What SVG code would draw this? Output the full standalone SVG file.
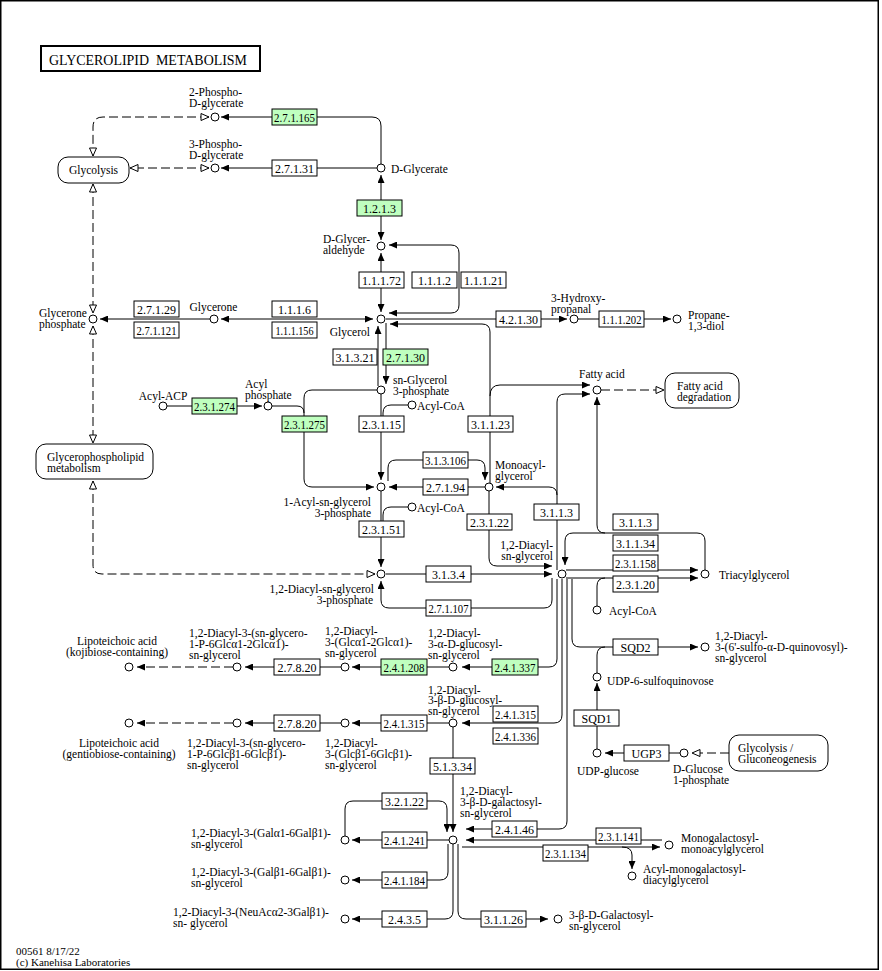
<svg xmlns="http://www.w3.org/2000/svg" width="882" height="971" viewBox="0 0 882 971">
<style>
text{font-family:"Liberation Serif","Times New Roman",serif;font-size:11.5px;fill:#000}
.l path{fill:none;stroke:#000;stroke-width:1}
.l .d{stroke-dasharray:9,4}
.c circle{fill:#fff;stroke:#000;stroke-width:1}
.e rect{fill:#fff;stroke:#000;stroke-width:1}
.e.g rect{fill:#bfffbf}
.e text{text-anchor:middle;font-size:12px}
.m rect{fill:#fff;stroke:#000;stroke-width:1}
</style>
<defs>
<marker id="af" viewBox="0 0 8 7" refX="8" refY="3.5" markerWidth="8" markerHeight="7" markerUnits="userSpaceOnUse" orient="auto-start-reverse"><path d="M0,0L8,3.5L0,7z" fill="#000" stroke="none"/></marker>
<marker id="ah" viewBox="-1 -1 10 9" refX="8" refY="3.5" markerWidth="10" markerHeight="9" markerUnits="userSpaceOnUse" orient="auto-start-reverse"><path d="M0,0L8,3.5L0,7z" fill="#fff" stroke="#000" stroke-width="1" stroke-dasharray="none"/></marker>
</defs>
<rect x="0.75" y="0.75" width="877.5" height="968.5" fill="#fff" stroke="#000" stroke-width="1.5"/>
<g id="title"><rect x="41" y="46" width="219" height="25" fill="#fff" stroke="#000" stroke-width="2"/><text x="49" y="65" style="font-size:14px;white-space:pre" textLength="198" lengthAdjust="spacingAndGlyphs">GLYCEROLIPID  METABOLISM</text></g>

<g id="connectors" class="l">
<path d="M381,164V126Q381,117 372,117H221" marker-end="url(#af)"/>
<path d="M377,168H221" marker-end="url(#af)"/>
<path class="d" d="M209,117H103Q93,117 93,127V156" marker-start="url(#ah)" marker-end="url(#ah)"/>
<path class="d" d="M209,168H130" marker-start="url(#ah)" marker-end="url(#ah)"/>
<path class="d" d="M93,184V313" marker-start="url(#ah)" marker-end="url(#ah)"/>
<path class="d" d="M93,326V443" marker-start="url(#ah)" marker-end="url(#ah)"/>
<path class="d" d="M93,481V565Q93,574 102,574H375" marker-start="url(#ah)" marker-end="url(#ah)"/>
<path d="M381,175V240" marker-start="url(#af)" marker-end="url(#af)"/>
<path d="M381,253V312" marker-start="url(#af)" marker-end="url(#af)"/>
<path d="M389,245H451Q459,245 459,253V305Q459,313 451,313H389" marker-start="url(#af)" marker-end="url(#af)"/>
<path d="M386,319H567" marker-end="url(#af)"/>
<path d="M578,319H671" marker-end="url(#af)"/>
<path d="M490,483V332Q490,324 482,324H390" marker-end="url(#af)"/>
<path d="M490,396Q490,385 500,385H590" marker-end="url(#af)"/>
<path d="M221,319H373" marker-start="url(#af)" marker-end="url(#af)"/>
<path d="M210,319H100" marker-end="url(#af)"/>
<path d="M378,386V326" marker-end="url(#af)"/>
<path d="M386,323V384" marker-end="url(#af)"/>
<path d="M167,406H262" marker-end="url(#af)"/>
<path d="M272,406H297Q304,406 304,413"/>
<path d="M377,390H312Q304,390 304,398V479Q304,487 312,487H374" marker-end="url(#af)"/>
<path d="M381,394V480" marker-end="url(#af)"/>
<path d="M408,405H391Q383,405 383,413V416"/>
<path d="M381,491V567" marker-end="url(#af)"/>
<path d="M408,507H391Q383,507 383,515V521"/>
<path d="M388,481V468Q388,460 396,460H477Q485,460 485,468V480" marker-end="url(#af)"/>
<path d="M485,487H389" marker-end="url(#af)"/>
<path d="M557,570V402Q557,394 565,394H590" marker-end="url(#af)"/>
<path d="M557,495Q557,487 549,487H496" marker-end="url(#af)"/>
<path d="M489,491V558Q489,566 497,566H552" marker-end="url(#af)"/>
<path d="M386,574H552" marker-end="url(#af)"/>
<path d="M552,578V600Q552,608 544,608H389Q381,608 381,600V581" marker-end="url(#af)"/>
<path d="M566,570H698" marker-end="url(#af)"/>
<path d="M566,578H698" marker-end="url(#af)"/>
<path d="M597,606V586Q597,578 605,578"/>
<path d="M705,570V541Q705,533 697,533H573Q565,533 565,541V565" marker-end="url(#af)"/>
<path d="M605,533Q597,533 597,525V397" marker-end="url(#af)"/>
<path class="d" d="M601,390H664" marker-end="url(#ah)"/>
<path d="M557,579V659Q557,667 549,667H462" marker-end="url(#af)"/>
<path d="M449,667H352" marker-end="url(#af)"/>
<path d="M341,667H245" marker-end="url(#af)"/>
<path class="d" d="M233,667H137" marker-end="url(#af)"/>
<path d="M562,579V715Q562,723 554,723H462" marker-end="url(#af)"/>
<path d="M449,723H352" marker-end="url(#af)"/>
<path d="M341,723H245" marker-end="url(#af)"/>
<path class="d" d="M233,723H137" marker-end="url(#af)"/>
<path d="M453,727V832" marker-end="url(#af)"/>
<path d="M345,836V809Q345,801 353,801H439Q447,801 447,809V832" marker-end="url(#af)"/>
<path d="M449,840H352" marker-end="url(#af)"/>
<path d="M448,844V872Q448,880 440,880H352" marker-end="url(#af)"/>
<path d="M453,844V911Q453,919 445,919H352" marker-end="url(#af)"/>
<path d="M458,844V911Q458,919 466,919H548" marker-end="url(#af)"/>
<path d="M567,579V821Q567,829 559,829H466" marker-end="url(#af)"/>
<path d="M662,840H466" marker-end="url(#af)"/>
<path d="M462,847H660" marker-end="url(#af)"/>
<path d="M622,847Q632,847 632,855V869" marker-end="url(#af)"/>
<path d="M572,579V639Q572,647 580,647H698" marker-end="url(#af)"/>
<path d="M597,673V655Q597,647 605,647"/>
<path d="M597,749V683" marker-end="url(#af)"/>
<path d="M680,753H605" marker-end="url(#af)"/>
<path class="d" d="M729,753H692" marker-end="url(#ah)"/>
</g>

<g id="maps" class="m">
<g id="map-glycolysis"><rect x="58" y="157" width="71" height="26" rx="10"/><text x="93.5" y="174" text-anchor="middle">Glycolysis</text></g>
<g id="map-glycerophospholipid"><rect x="36" y="444" width="117" height="35" rx="10"/><text><tspan x="47" y="461">Glycerophospholipid</tspan><tspan x="47" y="472">metabolism</tspan></text></g>
<g id="map-fatty-acid-degradation"><rect x="665" y="373" width="74" height="35" rx="10"/><text><tspan x="677" y="390">Fatty acid</tspan><tspan x="677" y="401">degradation</tspan></text></g>
<g id="map-glycolysis-gluconeogenesis"><rect x="729" y="735" width="99" height="36" rx="10"/><text><tspan x="738" y="752">Glycolysis /</tspan><tspan x="738" y="763">Gluconeogenesis</tspan></text></g>
</g>

<g id="enzymes">
<g id="ec-2.7.1.165" class="e g"><rect x="272" y="109" width="45" height="16"/><text x="294.5" y="122" textLength="41" lengthAdjust="spacingAndGlyphs">2.7.1.165</text></g>
<g id="ec-2.7.1.31" class="e"><rect x="272" y="160" width="45" height="16"/><text x="294.5" y="173">2.7.1.31</text></g>
<g id="ec-1.2.1.3" class="e g"><rect x="357" y="200" width="45" height="16"/><text x="379.5" y="213">1.2.1.3</text></g>
<g id="ec-1.1.1.72" class="e"><rect x="359" y="272" width="45" height="16"/><text x="381.5" y="285">1.1.1.72</text></g>
<g id="ec-1.1.1.2" class="e"><rect x="412" y="272" width="45" height="16"/><text x="434.5" y="285">1.1.1.2</text></g>
<g id="ec-1.1.1.21" class="e"><rect x="461" y="272" width="45" height="16"/><text x="483.5" y="285">1.1.1.21</text></g>
<g id="ec-2.7.1.29" class="e"><rect x="134" y="301" width="45" height="16"/><text x="156.5" y="314">2.7.1.29</text></g>
<g id="ec-2.7.1.121" class="e"><rect x="134" y="322" width="45" height="16"/><text x="156.5" y="335" textLength="40" lengthAdjust="spacingAndGlyphs">2.7.1.121</text></g>
<g id="ec-1.1.1.6" class="e"><rect x="272" y="301" width="45" height="16"/><text x="294.5" y="314">1.1.1.6</text></g>
<g id="ec-1.1.1.156" class="e"><rect x="272" y="322" width="45" height="16"/><text x="294.5" y="335" textLength="38" lengthAdjust="spacingAndGlyphs">1.1.1.156</text></g>
<g id="ec-4.2.1.30" class="e"><rect x="496" y="311" width="45" height="16"/><text x="518.5" y="324">4.2.1.30</text></g>
<g id="ec-1.1.1.202" class="e"><rect x="599" y="311" width="45" height="16"/><text x="621.5" y="324" textLength="40" lengthAdjust="spacingAndGlyphs">1.1.1.202</text></g>
<g id="ec-3.1.3.21" class="e"><rect x="333" y="349" width="44" height="16"/><text x="355" y="362">3.1.3.21</text></g>
<g id="ec-2.7.1.30" class="e g"><rect x="383" y="349" width="45" height="16"/><text x="405.5" y="362">2.7.1.30</text></g>
<g id="ec-2.3.1.274" class="e g"><rect x="192" y="398" width="45" height="16"/><text x="214.5" y="411" textLength="41" lengthAdjust="spacingAndGlyphs">2.3.1.274</text></g>
<g id="ec-2.3.1.275" class="e g"><rect x="282" y="416" width="45" height="16"/><text x="304.5" y="429" textLength="41" lengthAdjust="spacingAndGlyphs">2.3.1.275</text></g>
<g id="ec-2.3.1.15" class="e"><rect x="359" y="416" width="45" height="16"/><text x="381.5" y="429">2.3.1.15</text></g>
<g id="ec-3.1.1.23" class="e"><rect x="468" y="416" width="45" height="16"/><text x="490.5" y="429">3.1.1.23</text></g>
<g id="ec-3.1.3.106" class="e"><rect x="423" y="452" width="45" height="16"/><text x="445.5" y="465" textLength="41" lengthAdjust="spacingAndGlyphs">3.1.3.106</text></g>
<g id="ec-2.7.1.94" class="e"><rect x="423" y="479" width="45" height="16"/><text x="445.5" y="492">2.7.1.94</text></g>
<g id="ec-2.3.1.51" class="e"><rect x="359" y="521" width="45" height="16"/><text x="381.5" y="534">2.3.1.51</text></g>
<g id="ec-2.3.1.22" class="e"><rect x="467" y="514" width="45" height="16"/><text x="489.5" y="527">2.3.1.22</text></g>
<g id="ec-3.1.1.3-a" class="e"><rect x="534" y="504" width="45" height="16"/><text x="556.5" y="517">3.1.1.3</text></g>
<g id="ec-3.1.1.3-b" class="e"><rect x="613" y="514" width="45" height="16"/><text x="635.5" y="527">3.1.1.3</text></g>
<g id="ec-3.1.1.34" class="e"><rect x="613" y="535" width="45" height="16"/><text x="635.5" y="548">3.1.1.34</text></g>
<g id="ec-2.3.1.158" class="e"><rect x="613" y="555" width="45" height="16"/><text x="635.5" y="568" textLength="41" lengthAdjust="spacingAndGlyphs">2.3.1.158</text></g>
<g id="ec-2.3.1.20" class="e"><rect x="613" y="576" width="45" height="16"/><text x="635.5" y="589">2.3.1.20</text></g>
<g id="ec-3.1.3.4" class="e"><rect x="426" y="566" width="45" height="16"/><text x="448.5" y="579">3.1.3.4</text></g>
<g id="ec-2.7.1.107" class="e"><rect x="426" y="600" width="45" height="16"/><text x="448.5" y="613" textLength="40" lengthAdjust="spacingAndGlyphs">2.7.1.107</text></g>
<g id="ec-SQD2" class="e"><rect x="613" y="639" width="45" height="16"/><text x="635.5" y="652">SQD2</text></g>
<g id="ec-SQD1" class="e"><rect x="574" y="710" width="45" height="16"/><text x="596.5" y="723">SQD1</text></g>
<g id="ec-UGP3" class="e"><rect x="624" y="745" width="45" height="16"/><text x="646.5" y="758">UGP3</text></g>
<g id="ec-2.4.1.337" class="e g"><rect x="492" y="659" width="46" height="16"/><text x="515" y="672" textLength="41" lengthAdjust="spacingAndGlyphs">2.4.1.337</text></g>
<g id="ec-2.4.1.208" class="e g"><rect x="381" y="659" width="46" height="16"/><text x="404" y="672" textLength="41" lengthAdjust="spacingAndGlyphs">2.4.1.208</text></g>
<g id="ec-2.7.8.20-a" class="e"><rect x="274" y="659" width="46" height="16"/><text x="297" y="672">2.7.8.20</text></g>
<g id="ec-2.4.1.315-a" class="e"><rect x="381" y="715" width="46" height="16"/><text x="404" y="728" textLength="41" lengthAdjust="spacingAndGlyphs">2.4.1.315</text></g>
<g id="ec-2.7.8.20-b" class="e"><rect x="274" y="715" width="46" height="16"/><text x="297" y="728">2.7.8.20</text></g>
<g id="ec-2.4.1.315-b" class="e"><rect x="493" y="706" width="45" height="16"/><text x="515.5" y="719" textLength="41" lengthAdjust="spacingAndGlyphs">2.4.1.315</text></g>
<g id="ec-2.4.1.336" class="e"><rect x="493" y="728" width="45" height="16"/><text x="515.5" y="741" textLength="41" lengthAdjust="spacingAndGlyphs">2.4.1.336</text></g>
<g id="ec-5.1.3.34" class="e"><rect x="430" y="758" width="45" height="16"/><text x="452.5" y="771">5.1.3.34</text></g>
<g id="ec-3.2.1.22" class="e"><rect x="382" y="793" width="45" height="16"/><text x="404.5" y="806">3.2.1.22</text></g>
<g id="ec-2.4.1.241" class="e"><rect x="382" y="832" width="45" height="16"/><text x="404.5" y="845" textLength="41" lengthAdjust="spacingAndGlyphs">2.4.1.241</text></g>
<g id="ec-2.4.1.184" class="e"><rect x="382" y="872" width="45" height="16"/><text x="404.5" y="885" textLength="41" lengthAdjust="spacingAndGlyphs">2.4.1.184</text></g>
<g id="ec-2.4.3.5" class="e"><rect x="382" y="911" width="45" height="16"/><text x="404.5" y="924">2.4.3.5</text></g>
<g id="ec-3.1.1.26" class="e"><rect x="481" y="911" width="45" height="16"/><text x="503.5" y="924">3.1.1.26</text></g>
<g id="ec-2.4.1.46" class="e"><rect x="492" y="821" width="45" height="16"/><text x="514.5" y="834">2.4.1.46</text></g>
<g id="ec-2.3.1.141" class="e"><rect x="596" y="828" width="45" height="16"/><text x="618.5" y="841" textLength="41" lengthAdjust="spacingAndGlyphs">2.3.1.141</text></g>
<g id="ec-2.3.1.134" class="e"><rect x="543" y="845" width="45" height="16"/><text x="565.5" y="858" textLength="41" lengthAdjust="spacingAndGlyphs">2.3.1.134</text></g>
</g>

<g id="compounds" class="c">
<g id="cpd-2-phospho-d-glycerate"><circle cx="215" cy="117" r="4"/><text><tspan x="189" y="96">2-Phospho-</tspan><tspan x="189" y="107">D-glycerate</tspan></text></g>
<g id="cpd-3-phospho-d-glycerate"><circle cx="215" cy="168" r="4"/><text><tspan x="189" y="148">3-Phospho-</tspan><tspan x="189" y="159">D-glycerate</tspan></text></g>
<g id="cpd-d-glycerate"><circle cx="381" cy="168" r="4"/><text x="391" y="173">D-Glycerate</text></g>
<g id="cpd-d-glyceraldehyde"><circle cx="381" cy="246" r="4"/><text><tspan x="323" y="243">D-Glycer-</tspan><tspan x="323" y="254">aldehyde</tspan></text></g>
<g id="cpd-glycerol"><circle cx="381" cy="319" r="4"/><text x="370" y="336" text-anchor="end">Glycerol</text></g>
<g id="cpd-glycerone"><circle cx="214" cy="319" r="4"/><text x="213.5" y="311" text-anchor="middle">Glycerone</text></g>
<g id="cpd-glycerone-phosphate"><circle cx="93" cy="319" r="4"/><text><tspan x="39" y="317">Glycerone</tspan><tspan x="39" y="328">phosphate</tspan></text></g>
<g id="cpd-3-hydroxypropanal"><circle cx="574" cy="319" r="4"/><text><tspan x="551" y="301.5">3-Hydroxy-</tspan><tspan x="551" y="312.5">propanal</tspan></text></g>
<g id="cpd-propane-1-3-diol"><circle cx="677" cy="319" r="4"/><text><tspan x="688" y="319">Propane-</tspan><tspan x="688" y="330">1,3-diol</tspan></text></g>
<g id="cpd-sn-glycerol-3-phosphate"><circle cx="381" cy="390" r="4"/><text><tspan x="393" y="384">sn-Glycerol</tspan><tspan x="393" y="395">3-phosphate</tspan></text></g>
<g id="cpd-acyl-acp"><circle cx="163" cy="406" r="4"/><text x="163" y="399.5" text-anchor="middle">Acyl-ACP</text></g>
<g id="cpd-acyl-phosphate"><circle cx="268" cy="406" r="4"/><text><tspan x="245" y="387.5">Acyl</tspan><tspan x="245" y="398.5">phosphate</tspan></text></g>
<g id="cpd-acyl-coa-1"><circle cx="412" cy="405" r="4"/><text x="417" y="410">Acyl-CoA</text></g>
<g id="cpd-fatty-acid"><circle cx="597" cy="390" r="4"/><text x="579" y="377.5">Fatty acid</text></g>
<g id="cpd-1-acyl-sn-glycerol-3-phosphate"><circle cx="381" cy="487" r="4"/><text text-anchor="end"><tspan x="371" y="505.5">1-Acyl-sn-glycerol</tspan><tspan x="371" y="516.5">3-phosphate</tspan></text></g>
<g id="cpd-monoacylglycerol"><circle cx="489" cy="487" r="4"/><text><tspan x="495" y="468.5">Monoacyl-</tspan><tspan x="495" y="479.5">glycerol</tspan></text></g>
<g id="cpd-acyl-coa-2"><circle cx="412" cy="507" r="4"/><text x="417" y="511.5">Acyl-CoA</text></g>
<g id="cpd-1-2-diacyl-sn-glycerol-3-phosphate"><circle cx="381" cy="574" r="4"/><text text-anchor="end"><tspan x="374" y="593">1,2-Diacyl-sn-glycerol</tspan><tspan x="373" y="604">3-phosphate</tspan></text></g>
<g id="cpd-1-2-diacyl-sn-glycerol"><circle cx="562" cy="574" r="4"/><text text-anchor="end"><tspan x="553" y="549">1,2-Diacyl-</tspan><tspan x="553" y="560">sn-glycerol</tspan></text></g>
<g id="cpd-triacylglycerol"><circle cx="705" cy="574" r="4"/><text x="719" y="578.5">Triacylglycerol</text></g>
<g id="cpd-acyl-coa-3"><circle cx="597" cy="610" r="4"/><text x="609" y="615">Acyl-CoA</text></g>
<g id="cpd-sqdg"><circle cx="705" cy="647" r="4"/><text><tspan x="715" y="639.5">1,2-Diacyl-</tspan><tspan x="715" y="650.5">3-(6'-sulfo-α-D-quinovosyl)-</tspan><tspan x="715" y="661.5">sn-glycerol</tspan></text></g>
<g id="cpd-udp-6-sulfoquinovose"><circle cx="597" cy="677" r="4"/><text x="607" y="684.5">UDP-6-sulfoquinovose</text></g>
<g id="cpd-udp-glucose"><circle cx="597" cy="753" r="4"/><text x="577" y="775">UDP-glucose</text></g>
<g id="cpd-d-glucose-1-phosphate"><circle cx="684" cy="753" r="4"/><text><tspan x="673" y="773">D-Glucose</tspan><tspan x="673" y="784">1-phosphate</tspan></text></g>
<g id="cpd-diacyl-alpha-glucosyl"><circle cx="453" cy="667" r="4"/><text><tspan x="428" y="637">1,2-Diacyl-</tspan><tspan x="428" y="648">3-α-D-glucosyl-</tspan><tspan x="428" y="659">sn-glycerol</tspan></text></g>
<g id="cpd-diacyl-glca1-2glca1"><circle cx="345" cy="667" r="4"/><text><tspan x="325" y="635">1,2-Diacyl-</tspan><tspan x="325" y="646">3-(Glcα1-2Glcα1)-</tspan><tspan x="325" y="657">sn-glycerol</tspan></text></g>
<g id="cpd-diacyl-glycero-p-glca"><circle cx="237" cy="667" r="4"/><text><tspan x="189" y="636.5">1,2-Diacyl-3-(sn-glycero-</tspan><tspan x="189" y="647.5">1-P-6Glcα1-2Glcα1)-</tspan><tspan x="189" y="658.5">sn-glycerol</tspan></text></g>
<g id="cpd-lta-kojibiose"><circle cx="129" cy="667" r="4"/><text text-anchor="middle"><tspan x="117" y="645">Lipoteichoic acid</tspan><tspan x="117" y="656">(kojibiose-containing)</tspan></text></g>
<g id="cpd-diacyl-beta-glucosyl"><circle cx="453" cy="723" r="4"/><text><tspan x="428" y="693.5">1,2-Diacyl-</tspan><tspan x="428" y="704">3-β-D-glucosyl-</tspan><tspan x="428" y="715">sn-glycerol</tspan></text></g>
<g id="cpd-diacyl-glcb1-6glcb1"><circle cx="345" cy="723" r="4"/><text><tspan x="325" y="746.5">1,2-Diacyl-</tspan><tspan x="325" y="757.5">3-(Glcβ1-6Glcβ1)-</tspan><tspan x="325" y="768.5">sn-glycerol</tspan></text></g>
<g id="cpd-diacyl-glycero-p-glcb"><circle cx="237" cy="723" r="4"/><text><tspan x="187" y="746.5">1,2-Diacyl-3-(sn-glycero-</tspan><tspan x="187" y="757.5">1-P-6Glcβ1-6Glcβ1)-</tspan><tspan x="187" y="768.5">sn-glycerol</tspan></text></g>
<g id="cpd-lta-gentiobiose"><circle cx="129" cy="723" r="4"/><text text-anchor="middle"><tspan x="119" y="747">Lipoteichoic acid</tspan><tspan x="119" y="758">(gentiobiose-containing)</tspan></text></g>
<g id="cpd-mgdg"><circle cx="453" cy="840" r="4"/><text><tspan x="460" y="794.5">1,2-Diacyl-</tspan><tspan x="460" y="805.5">3-β-D-galactosyl-</tspan><tspan x="460" y="816.5">sn-glycerol</tspan></text></g>
<g id="cpd-dgdg-alpha"><circle cx="345" cy="840" r="4"/><text><tspan x="191" y="837">1,2-Diacyl-3-(Galα1-6Galβ1)-</tspan><tspan x="191" y="848">sn-glycerol</tspan></text></g>
<g id="cpd-dgdg-beta"><circle cx="345" cy="880" r="4"/><text><tspan x="191" y="876">1,2-Diacyl-3-(Galβ1-6Galβ1)-</tspan><tspan x="191" y="887">sn-glycerol</tspan></text></g>
<g id="cpd-neuac-galactosyl"><circle cx="345" cy="919" r="4"/><text><tspan x="173" y="915.5">1,2-Diacyl-3-(NeuAcα2-3Galβ1)-</tspan><tspan x="173" y="926.5">sn- glycerol</tspan></text></g>
<g id="cpd-3-beta-d-galactosyl-sn-glycerol"><circle cx="558" cy="919" r="4"/><text><tspan x="569" y="918.5">3-β-D-Galactosyl-</tspan><tspan x="569" y="929.5">sn-glycerol</tspan></text></g>
<g id="cpd-mgmg"><circle cx="669" cy="845" r="4"/><text><tspan x="681" y="841.5">Monogalactosyl-</tspan><tspan x="681" y="852.5">monoacylglycerol</tspan></text></g>
<g id="cpd-acyl-mgdg"><circle cx="632" cy="876" r="4"/><text><tspan x="643" y="872.5">Acyl-monogalactosyl-</tspan><tspan x="643" y="883.5">diacylglycerol</tspan></text></g>
</g>

<g id="footer"><text style="font-size:11px"><tspan x="16" y="955">00561 8/17/22</tspan><tspan x="16" y="966">(c) Kanehisa Laboratories</tspan></text></g>
</svg>
